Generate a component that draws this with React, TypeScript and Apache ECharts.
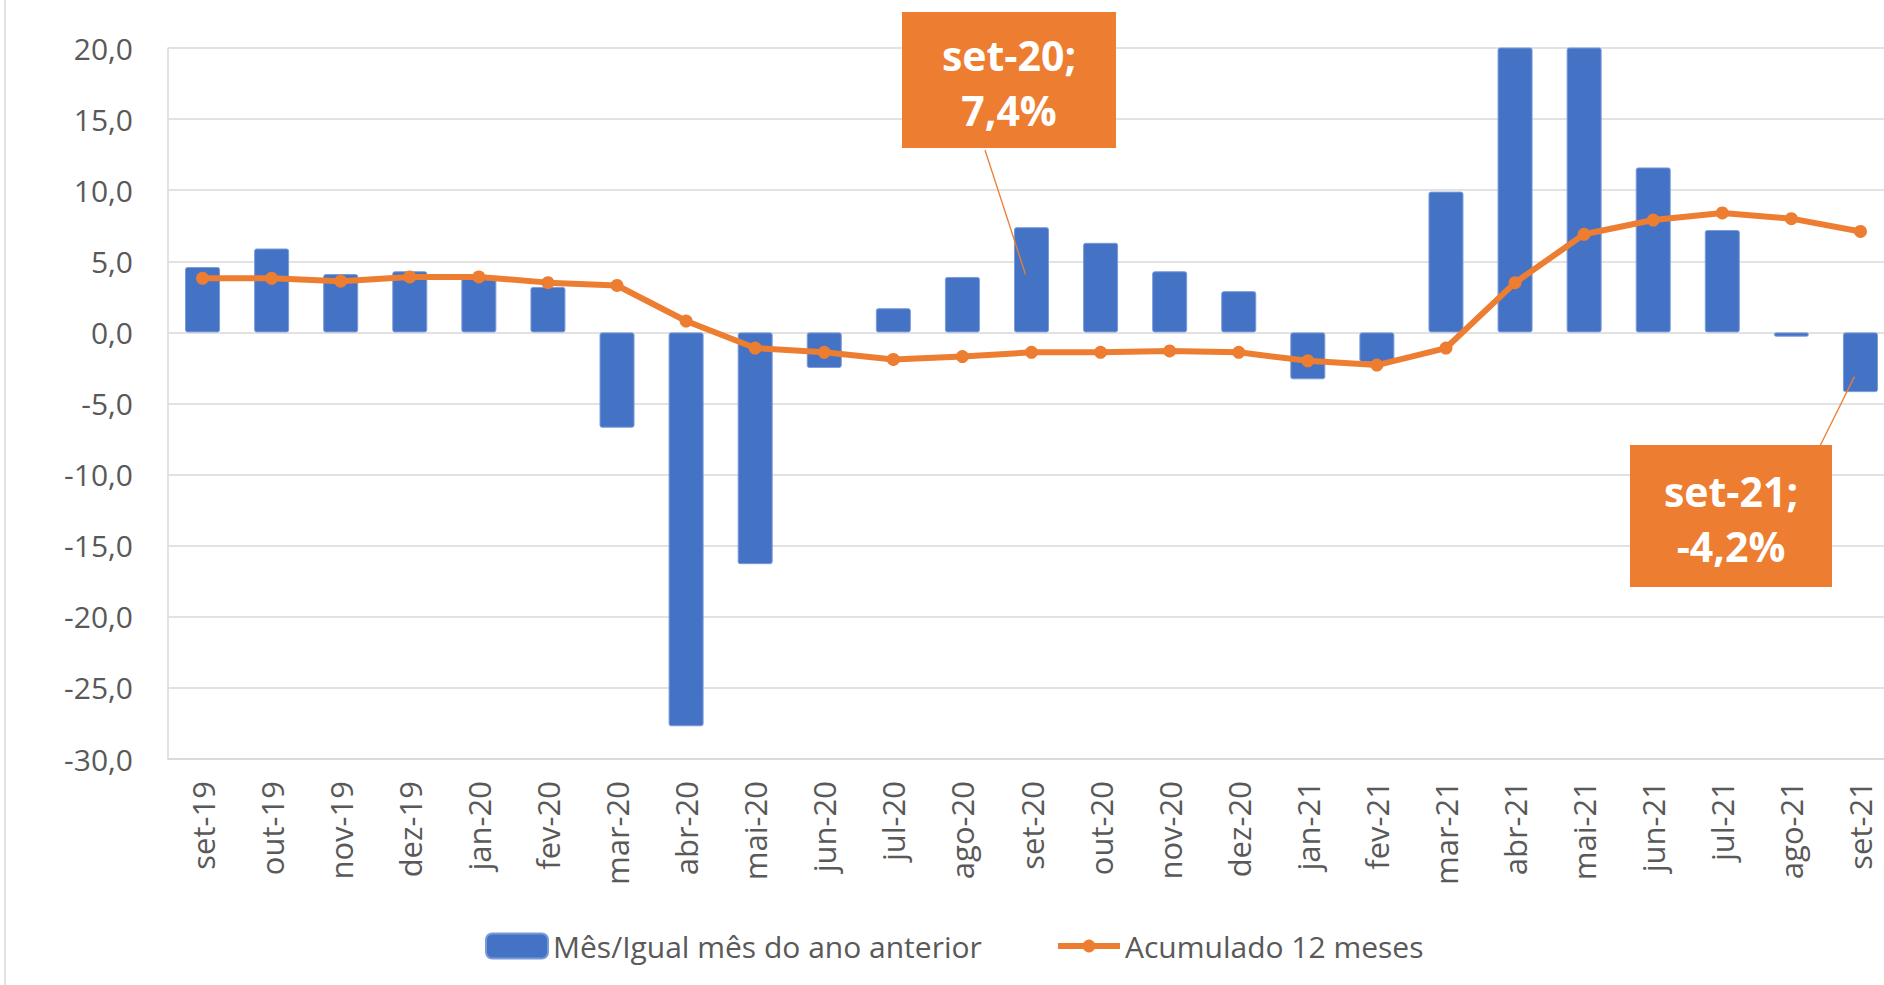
import React, { useEffect, useRef } from 'react';
import * as echarts from 'echarts';

const categories = [
  'set-19', 'out-19', 'nov-19', 'dez-19', 'jan-20', 'fev-20', 'mar-20', 'abr-20', 'mai-20',
  'jun-20', 'jul-20', 'ago-20', 'set-20', 'out-20', 'nov-20', 'dez-20', 'jan-21', 'fev-21',
  'mar-21', 'abr-21', 'mai-21', 'jun-21', 'jul-21', 'ago-21', 'set-21',
];

// Mês/Igual mês do ano anterior (%) — abr-21 and mai-21 exceed the axis maximum and are clipped
const monthlyYoY = [
  4.6, 5.9, 4.1, 4.3, 3.8, 3.2, -6.7, -27.7, -16.3,
  -2.5, 1.7, 3.9, 7.4, 6.3, 4.3, 2.9, -3.3, -2.1,
  9.9, 41.0, 26.2, 11.6, 7.2, -0.3, -4.2,
];

// Acumulado 12 meses (%)
const accum12 = [
  3.8, 3.8, 3.6, 3.9, 3.9, 3.5, 3.3, 0.8, -1.1,
  -1.4, -1.9, -1.7, -1.4, -1.4, -1.3, -1.4, -2.0, -2.3,
  -1.1, 3.5, 6.9, 7.9, 8.4, 8.0, 7.1,
];

const seriesNames = ['Mês/Igual mês do ano anterior', 'Acumulado 12 meses'];

// annotated bars (category index) and where inside the bar the leader line points
const annotatedIndex = [12, 24];
const anchorShare = [0.55, 0.74];

const BLUE = '#4472C4';
const ORANGE = '#ED7D31';
const GRID = '#D9D9D9';
const TEXT = '#595959';
const FONT = '"Open Sans", Lato, sans-serif';

const fmt = (v: number) => v.toFixed(1).replace('.', ',');

export default function App() {
  const ref = useRef<HTMLDivElement>(null);

  useEffect(() => {
    if (!ref.current) return;
    const chart = echarts.init(ref.current, undefined, { renderer: 'svg' });

    chart.setOption({
      animation: false,
      backgroundColor: '#FFFFFF',
      grid: { left: 168, top: 48, bottom: 226, right: 0, containLabel: false },
      legend: [
        {
          data: [seriesNames[0]],
          left: 485,
          top: 930,
          padding: 0,
          itemWidth: 62,
          itemHeight: 25,
          textStyle: { fontFamily: FONT, fontSize: 30, color: TEXT, lineHeight: 32 },
        },
        {
          data: [seriesNames[1]],
          left: 1055,
          top: 930,
          padding: 0,
          itemWidth: 62,
          itemHeight: 16,
          lineStyle: { width: 6, color: ORANGE },
          textStyle: { fontFamily: FONT, fontSize: 30, color: TEXT, lineHeight: 32 },
        },
      ],
      xAxis: {
        type: 'category',
        data: categories,
        position: 'bottom',
        axisLine: { onZero: false, lineStyle: { color: GRID, width: 1.5 } },
        axisTick: { show: false },
        axisLabel: {
          rotate: 90,
          margin: 22,
          fontFamily: FONT,
          fontSize: 31,
          color: TEXT,
          interval: 0,
        },
      },
      yAxis: {
        type: 'value',
        min: -30,
        max: 20,
        interval: 5,
        axisLine: { show: true, lineStyle: { color: GRID, width: 1.5 } },
        axisTick: { show: false },
        splitLine: { lineStyle: { color: GRID, width: 1.5 } },
        axisLabel: {
          formatter: (v: number) => fmt(v),
          margin: 35,
          fontFamily: FONT,
          fontSize: 30,
          color: TEXT,
        },
      },
      series: [
        {
          name: seriesNames[0],
          type: 'bar',
          data: monthlyYoY,
          barWidth: 35,
          clip: true,
          itemStyle: { color: BLUE, borderColor: '#7A9BDA', borderWidth: 1, borderRadius: 2 },
        },
        {
          name: seriesNames[1],
          type: 'line',
          data: accum12,
          symbol: 'circle',
          symbolSize: 13,
          lineStyle: { color: ORANGE, width: 6 },
          itemStyle: { color: ORANGE },
          z: 3,
        },
      ],
    });

    // callout boxes (layout positions) with leader lines anchored on the data
    const boxes = [
      { x: 902, y: 12, w: 214, h: 136, fromX: 985, fromY: 150 },
      { x: 1630, y: 445, w: 202, h: 142, fromX: 1820, fromY: 446 },
    ];
    const graphics: any[] = [
      {
        type: 'line',
        shape: { x1: 5, y1: 0, x2: 5, y2: 985 },
        style: { stroke: GRID, lineWidth: 1.5 },
        silent: true,
      },
    ];
    annotatedIndex.forEach((idx, i) => {
      const val = monthlyYoY[idx];
      const p = chart.convertToPixel({ xAxisIndex: 0, yAxisIndex: 0 }, [idx, val * anchorShare[i]]) as number[];
      const b = boxes[i];
      graphics.push({
        type: 'line',
        shape: { x1: b.fromX, y1: b.fromY, x2: p[0] - 6, y2: p[1] },
        style: { stroke: ORANGE, lineWidth: 1.3 },
        z: 100,
      });
      graphics.push({
        type: 'rect',
        shape: { x: b.x, y: b.y, width: b.w, height: b.h },
        style: { fill: ORANGE },
        z: 101,
      });
      graphics.push({
        type: 'text',
        x: b.x + b.w / 2,
        y: b.y + b.h / 2 + 2,
        style: {
          text: `${categories[idx]};\n${fmt(val)}%`,
          fill: '#FFFFFF',
          fontFamily: FONT,
          fontWeight: 'bold',
          fontSize: 41,
          lineHeight: 55,
          align: 'center',
          verticalAlign: 'middle',
        },
        z: 102,
      });
    });
    chart.setOption({ graphic: graphics });

    return () => chart.dispose();
  }, []);

  return (
    <div style={{ position: 'fixed', left: 0, top: 0, width: 1884, height: 985, overflow: 'hidden', background: '#fff' }}>
      <div ref={ref} style={{ position: 'absolute', left: 0, top: 0, width: 1895, height: 985 }} />
    </div>
  );
}
